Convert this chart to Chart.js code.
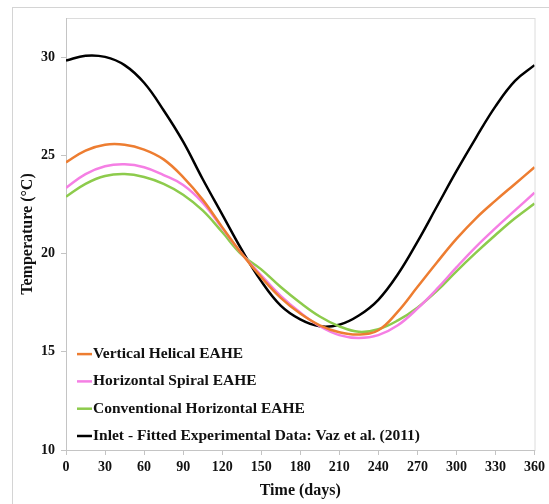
<!DOCTYPE html>
<html>
<head>
<meta charset="utf-8">
<script src="https://cdn.jsdelivr.net/npm/chart.js@4/dist/chart.umd.min.js"></script>
<style>
  html, body { margin: 0; padding: 0; background: #fff; }
  #wrap { position: relative; width: 549px; height: 504px; }
</style>
</head>
<body>
<div id="wrap"><canvas id="tempChart" width="549" height="504"></canvas></div>
<script>
// days of the year (x values)
const days = [0, 15, 30, 45, 60, 75, 90, 105, 120, 135, 150, 165, 180, 195, 210, 225, 240, 255, 270, 285, 300, 315, 330, 345, 360];

// temperatures (°C)
const verticalHelical = [24.65, 25.25, 25.55, 25.55, 25.3, 24.8, 23.9, 22.75, 21.35, 20.0, 18.8, 17.75, 16.95, 16.35, 16.0, 15.88, 16.1, 17.05, 18.3, 19.55, 20.75, 21.8, 22.7, 23.55, 24.4];
const horizontalSpiral = [23.35, 24.05, 24.45, 24.55, 24.4, 24.0, 23.5, 22.6, 21.3, 20.0, 18.9, 17.85, 17.0, 16.3, 15.85, 15.7, 15.85, 16.35, 17.2, 18.2, 19.3, 20.35, 21.3, 22.2, 23.1];
const conventional = [22.9, 23.55, 23.95, 24.05, 23.9, 23.55, 23.0, 22.2, 21.1, 19.95, 19.2, 18.3, 17.5, 16.8, 16.3, 16.02, 16.15, 16.6, 17.25, 18.1, 19.1, 20.05, 20.95, 21.8, 22.55];
const inlet = [29.83, 30.08, 30.02, 29.6, 28.7, 27.3, 25.7, 23.8, 22.0, 20.2, 18.6, 17.35, 16.65, 16.3, 16.38, 16.85, 17.65, 18.95, 20.6, 22.4, 24.2, 25.9, 27.5, 28.8, 29.6];

const seriesNames = ['Vertical Helical EAHE', 'Horizontal Spiral EAHE', 'Conventional Horizontal EAHE', 'Inlet - Fitted Experimental Data: Vaz et al. (2011)'];
const xTicks = [0, 30, 60, 90, 120, 150, 180, 210, 240, 270, 300, 330, 360];
const yTicks = [10, 15, 20, 25, 30];

const serif = '"Liberation Serif", "Times New Roman", serif';

function pts(vals) {
  return days.map((d, i) => ({ x: d, y: vals[i] }));
}

// frame around the whole picture and around the plot area
const framePlugin = {
  id: 'frame',
  beforeDraw(chart) {
    const c = chart.ctx;
    c.save();
    c.strokeStyle = '#d4d4d4';
    c.lineWidth = 1;
    c.strokeRect(12.5, 7.5, 600, 600);
    const a = chart.chartArea;
    c.strokeStyle = '#dcdcdc';
    c.strokeRect(a.left + 0.5, a.top + 0.5, a.right - a.left, a.bottom - a.top);
    c.restore();
  }
};

// legend drawn inside the plot, bottom-left
const innerLegend = {
  id: 'innerLegend',
  afterDatasetsDraw(chart, args, opts) {
    const c = chart.ctx;
    const a = chart.chartArea;
    const n = chart.data.datasets.length;
    c.save();
    c.font = 'bold 15.5px ' + serif;
    c.textBaseline = 'middle';
    c.textAlign = 'left';
    chart.data.datasets.forEach((ds, i) => {
      const y = a.bottom - opts.bottom - (n - 1 - i) * opts.spacing;
      const x0 = a.left + opts.left;
      c.strokeStyle = ds.borderColor;
      c.lineWidth = 2.5;
      c.beginPath();
      c.moveTo(x0, y);
      c.lineTo(x0 + 15, y);
      c.stroke();
      c.fillStyle = '#111';
      c.fillText(ds.label, x0 + 16, y);
    });
    c.restore();
  }
};

const ctx = document.getElementById('tempChart').getContext('2d');

const tempChart = new Chart(ctx, {
  type: 'line',
  data: {
    datasets: [
      { label: seriesNames[0], data: pts(verticalHelical), borderColor: '#ED7D31' },
      { label: seriesNames[1], data: pts(horizontalSpiral), borderColor: '#F57FE4' },
      { label: seriesNames[2], data: pts(conventional), borderColor: '#8DCB4C' },
      { label: seriesNames[3], data: pts(inlet), borderColor: '#000000' }
    ]
  },
  options: {
    responsive: false,
    animation: false,
    layout: { padding: { top: 18, right: 13, left: 0, bottom: 0 } },
    elements: {
      line: { borderWidth: 2.5, tension: 0.4, fill: false },
      point: { radius: 0 }
    },
    scales: {
      x: {
        type: 'linear',
        min: 0,
        max: 360,
        afterBuildTicks: (s) => { s.ticks = xTicks.map(v => ({ value: v })); },
        afterFit: (s) => { s.height = 54; },
        border: { display: true, color: '#c4c4c4', width: 1 },
        grid: { drawOnChartArea: false, drawTicks: true, tickLength: 5, color: '#c4c4c4' },
        ticks: { color: '#111', padding: 4, maxRotation: 0, font: { family: serif, size: 14, weight: 'bold' } },
        title: { display: true, text: 'Time (days)', color: '#111', padding: { top: 0, bottom: 4 }, font: { family: serif, size: 16, weight: 'bold' } }
      },
      y: {
        min: 10,
        max: 32,
        afterBuildTicks: (s) => { s.ticks = yTicks.map(v => ({ value: v })); },
        afterFit: (s) => { s.width = 66; },
        border: { display: true, color: '#c4c4c4', width: 1 },
        grid: { drawOnChartArea: false, drawTicks: true, tickLength: 5, color: '#c4c4c4' },
        ticks: { color: '#111', padding: 6, font: { family: serif, size: 14, weight: 'bold' } },
        title: { display: true, text: 'Temperature (°C)', color: '#111', padding: { top: 18, bottom: 0 }, font: { family: serif, size: 16, weight: 'bold' } }
      }
    },
    plugins: {
      legend: { display: false },
      tooltip: { enabled: false },
      innerLegend: { left: 11, bottom: 14, spacing: 27.3 }
    }
  },
  plugins: [framePlugin, innerLegend]
});
</script>
</body>
</html>
